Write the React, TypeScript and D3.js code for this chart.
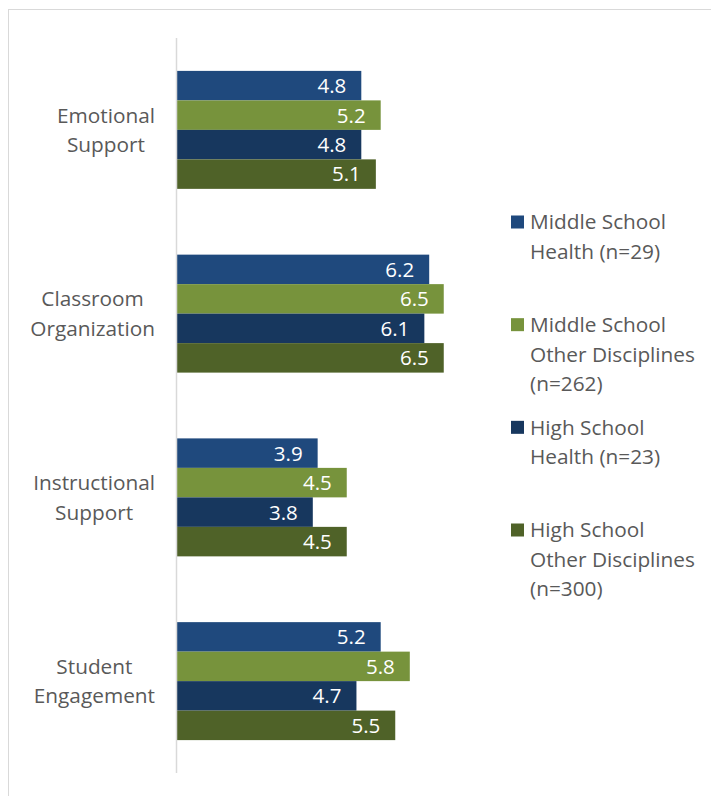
import React from "react";
import * as d3 from "d3";

const categories = ["Emotional Support", "Classroom Organization", "Instructional Support", "Student Engagement"];
const categoryLines = [["Emotional", "Support"], ["Classroom", "Organization"], ["Instructional", "Support"], ["Student", "Engagement"]];
const seriesKeys = ["msHealth", "msOther", "hsHealth", "hsOther"];
const seriesLegend = [
  ["Middle School", "Health (n=29)"],
  ["Middle School", "Other Disciplines", "(n=262)"],
  ["High School", "Health (n=23)"],
  ["High School", "Other Disciplines", "(n=300)"],
];
const seriesColors = ["#1F497D", "#77933C", "#17375E", "#4F6228"];
const msHealth = [4.8, 6.2, 3.9, 5.2];
const msOther = [5.2, 6.5, 4.5, 5.8];
const hsHealth = [4.8, 6.1, 3.8, 4.7];
const hsOther = [5.1, 6.5, 4.5, 5.5];
const seriesValues = [msHealth, msOther, hsHealth, hsOther];

const FONT = "'Open Sans', sans-serif";
const FS = 20.8;
const LFS = 20.5;

function measure(text: string, size: number) {
  const c = document.createElement("canvas");
  const ctx = c.getContext("2d")!;
  ctx.font = `${size}px 'Open Sans'`;
  return ctx.measureText(text).width;
}

export default function App() {
  const x = d3.scaleLinear().domain([1, 7]).range([177, 468]);
  const y = d3.scaleBand<string>().domain(categories).range([38, 773]).paddingInner(0.358).paddingOuter(0.179);
  const ySub = d3.scaleBand<string>().domain(seriesKeys).range([0, y.bandwidth()]);
  const lineH = 29.5;
  const labelRight = 155;
  const legendY = d3.scalePoint<number>().domain([0, 1, 2, 3]).range([222, 530]);

  return (
    <svg width={711} height={796} style={{ position: "absolute", left: 0, top: 0 }} fontFamily={FONT}>
      <rect x={0} y={0} width={711} height={796} fill="#fff" />
      <rect x={8.5} y={9.5} width={800} height={900} fill="none" stroke="#d9d9d9" strokeWidth={1} />
      {categories.map((c, ci) => (
        <g key={c}>
          {seriesKeys.map((k, si) => {
            const v = seriesValues[si][ci];
            const y0 = (y(c) as number) + (ySub(k) as number);
            const h = ySub.bandwidth();
            return (
              <g key={k}>
                <rect x={x(1)} y={y0} width={x(v) - x(1)} height={h} fill={seriesColors[si]} />
                <text x={x(v) - 15} y={y0 + h / 2} dy="0.36em" textAnchor="end" fill="#fff" fontSize={LFS}>
                  {v.toFixed(1)}
                </text>
              </g>
            );
          })}
        </g>
      ))}
      <line x1={176.5} x2={176.5} y1={38} y2={773} stroke="#d9d9d9" strokeWidth={1.5} />
      {categories.map((c, ci) => {
        const lines = categoryLines[ci];
        const maxW = Math.max(...lines.map((l) => measure(l, FS)));
        const cx = labelRight - maxW / 2;
        const cy = (y(c) as number) + y.bandwidth() / 2;
        const top = cy - ((lines.length - 1) * lineH) / 2;
        return (
          <g key={c}>
            {lines.map((l, li) => (
              <text key={li} x={cx} y={top + li * lineH} dy="0.36em" textAnchor="middle" fill="#595959" fontSize={FS}>
                {l}
              </text>
            ))}
          </g>
        );
      })}
      {seriesLegend.map((lines, si) => {
        const ly = legendY(si) as number;
        return (
          <g key={si}>
            <rect x={511} y={ly - 6.5} width={13} height={13} fill={seriesColors[si]} />
            {lines.map((l, li) => (
              <text key={li} x={530} y={ly + li * lineH} dy="0.36em" fill="#595959" fontSize={FS}>
                {l}
              </text>
            ))}
          </g>
        );
      })}
    </svg>
  );
}
